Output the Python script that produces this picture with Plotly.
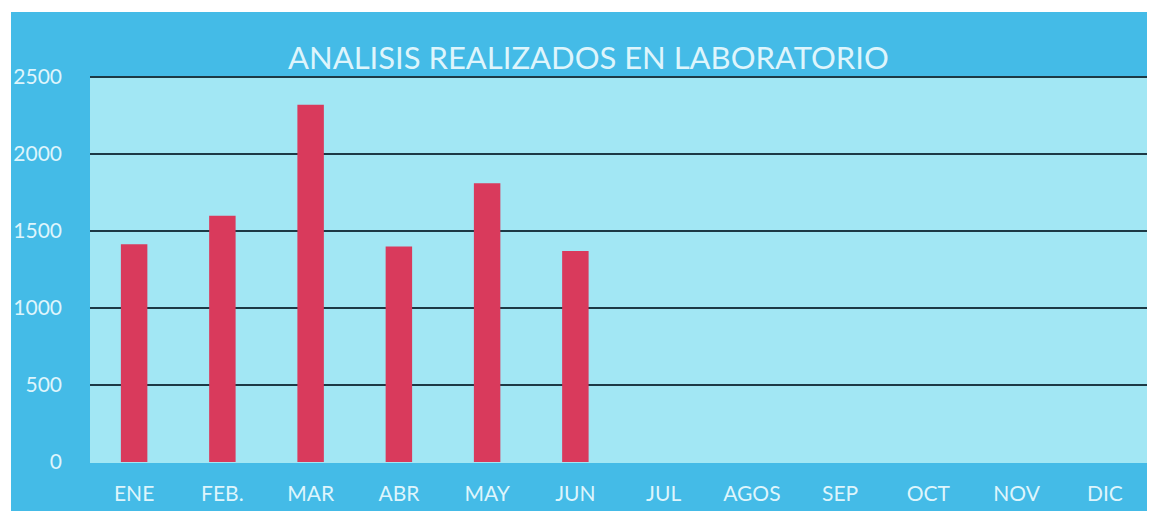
import plotly.graph_objects as go

# data
meses = ['ENE', 'FEB.', 'MAR', 'ABR', 'MAY', 'JUN', 'JUL', 'AGOS', 'SEP', 'OCT', 'NOV', 'DIC']
analisis = [1415, 1600, 2320, 1400, 1810, 1370, None, None, None, None, None, None]
y_ticks = [0, 500, 1000, 1500, 2000, 2500]
titulo = 'ANALISIS REALIZADOS EN LABORATORIO'

# the page body adds an 8px margin, so the figure is drawn 8px in from the corner
OFF = 8
W, H = 1155 - OFF, 511 - OFF
# plot area in page pixels
L, R, T, B = 90, 1149, 74, 462
pw, ph = R - L, B - T

def px_x(x):
    return (x - L) / pw

def px_y(y):
    return (B - y) / ph

AZUL = '#44bbe7'
CIAN = '#a2e7f4'
TEXTO = '#def5fc'

fig = go.Figure()
fig.add_trace(go.Bar(x=meses, y=analisis, marker=dict(color='#d93a5c', line=dict(width=0)),
                     showlegend=False, hoverinfo='x+y'))

# outer blue frame, then the cyan plot panel above it
fig.add_shape(type='rect', xref='paper', yref='paper', layer='below',
              x0=px_x(11), x1=px_x(1160), y0=px_y(515), y1=px_y(12),
              fillcolor=AZUL, line=dict(width=0))
fig.add_shape(type='rect', xref='paper', yref='paper', layer='below',
              x0=0, x1=1, y0=px_y(463), y1=px_y(77),
              fillcolor=CIAN, line=dict(width=0))

fig.add_annotation(text=titulo, xref='paper', yref='paper', x=px_x(588), y=px_y(57),
                   xanchor='center', yanchor='middle', showarrow=False,
                   font=dict(family='Lato, Open Sans, sans-serif', size=31, color=TEXTO))

fig.update_layout(
    width=W, height=H,
    margin=dict(l=L - OFF, r=1155 - R, t=T - OFF, b=511 - B, pad=0),
    paper_bgcolor='white', plot_bgcolor='rgba(0,0,0,0)',
    bargap=0.7,
    font=dict(family='Lato, Open Sans, sans-serif', color=TEXTO),
)
fig.update_xaxes(showgrid=False, zeroline=False, showline=False, ticks='',
                 tickfont=dict(size=21, color=TEXTO), ticklabelstandoff=17,
                 fixedrange=True)
# top of range a little above 2500 so that gridline is still drawn
fig.update_yaxes(range=[0, 2520], tickvals=y_ticks, showgrid=True,
                 gridcolor='#1d3945', gridwidth=2, zeroline=False, showline=False,
                 ticks='', tickfont=dict(size=21, color=TEXTO), ticklabelstandoff=27,
                 fixedrange=True)

fig.write_html('out.html')
